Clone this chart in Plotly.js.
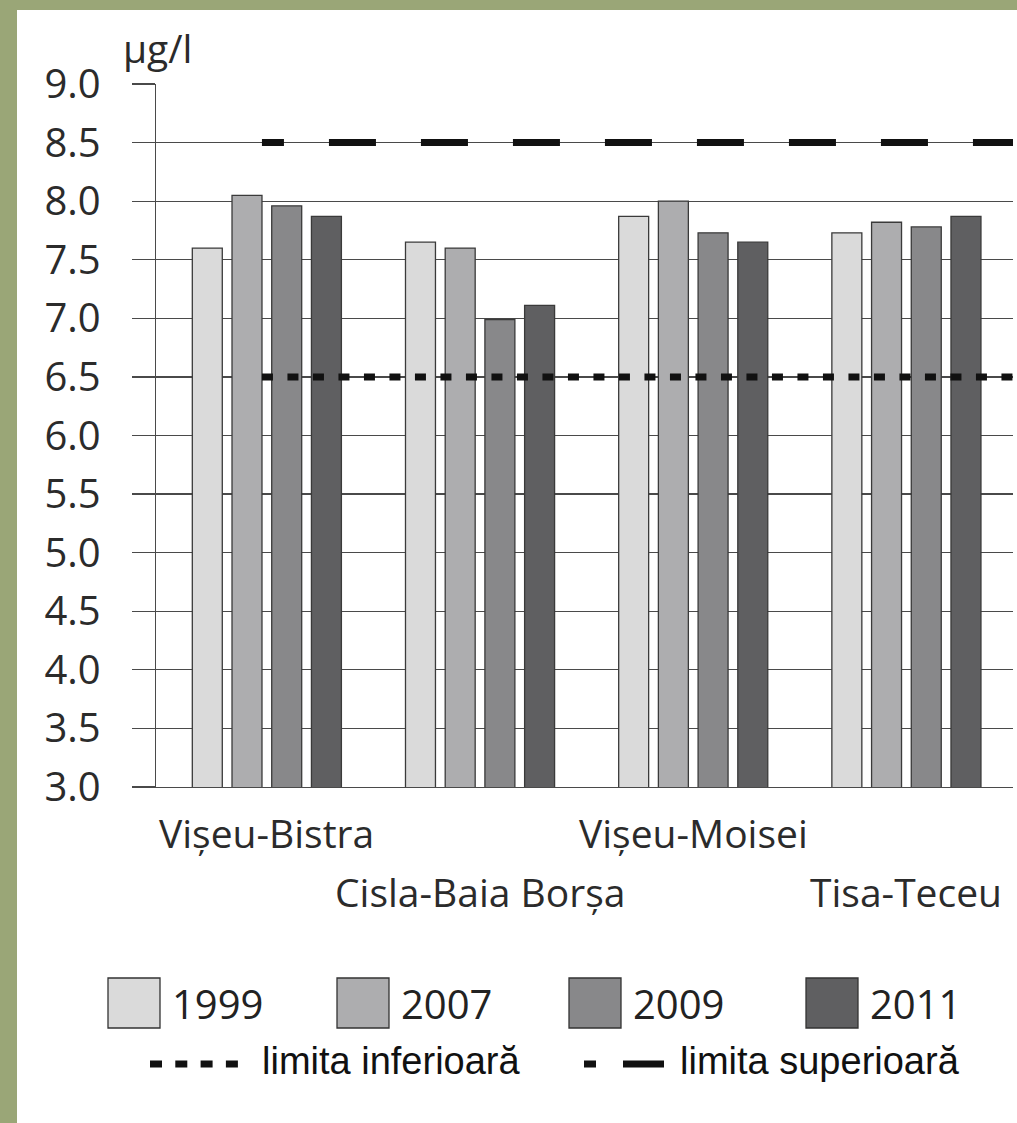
<!DOCTYPE html>
<html><head><meta charset="utf-8">
<script src="https://cdn.plot.ly/plotly-3.0.1.min.js"></script>
<style>
html,body{margin:0;padding:0;background:#9aa677;width:1017px;height:1123px;overflow:hidden;}
#chart{position:absolute;left:17px;top:10px;width:1000px;height:1113px;background:#fff;}
</style></head><body><div id="chart"></div>
<script>
// ---- data ----
const categories = ['Vișeu-Bistra', 'Cisla-Baia Borșa', 'Vișeu-Moisei', 'Tisa-Teceu'];
const years = ['1999', '2007', '2009', '2011'];
const v1999 = [7.60, 7.65, 7.87, 7.73];
const v2007 = [8.05, 7.60, 8.00, 7.82];
const v2009 = [7.96, 6.99, 7.73, 7.78];
const v2011 = [7.87, 7.11, 7.65, 7.87];
const lowerLimit = 6.5;
const upperLimit = 8.5;
const limitLabels = ['limita inferioară', 'limita superioară'];
const unitLabel = 'µg/l';

// ---- styles ----
const seriesValues = [v1999, v2007, v2009, v2011];
const colors = ['#dadada', '#adadaf', '#88888a', '#5f5f61'];
const gridCol = '#4a4a4a';
const W = 1000, H = 1113, ML = 139, MR = 4, MT = 74, MB = 336;
const plotW = W - ML - MR, plotH = H - MT - MB;
// page pixel -> paper coords (div is offset by 17,10)
const px = x => (x - 17 - ML) / plotW;
const py = y => (H - MB - (y - 10)) / plotH;
const xIdx = categories.map((c, i) => i);

const traces = seriesValues.map((vals, k) => ({
  type: 'bar', name: years[k], x: xIdx, y: vals,
  marker: {color: colors[k], line: {color: '#3a3a3a', width: 1.3}},
  showlegend: false, hoverinfo: 'skip'
}));
const lineStart = -0.023, lineEnd = 3.5;
traces.push({
  type: 'scatter', mode: 'lines', x: [lineStart, lineEnd], y: [upperLimit, upperLimit],
  line: {color: '#111', width: 7,
    dash: '22px,45px,47px,45px,47px,45px,47px,45px,47px,45px,47px,45px,47px,45px,47px,45px,47px,45px,47px,45px'},
  showlegend: false, hoverinfo: 'skip'
});
traces.push({
  type: 'scatter', mode: 'lines', x: [lineStart, lineEnd], y: [lowerLimit, lowerLimit],
  line: {color: '#111', width: 7, dash: '11px,14.5px'},
  showlegend: false, hoverinfo: 'skip'
});

const annotations = [];
const shapes = [];
categories.forEach((c, i) => {
  annotations.push({
    text: c, xref: 'x', x: i, yref: 'paper', y: i % 2 === 0 ? py(832) : py(891),
    xanchor: 'center', yanchor: 'middle', showarrow: false,
    font: {family: 'Open Sans', size: 39, color: '#2b2b2b'}
  });
});
annotations.push({
  text: unitLabel, xref: 'paper', yref: 'paper', x: px(121), y: py(47),
  xanchor: 'left', yanchor: 'middle', showarrow: false,
  font: {family: 'Open Sans', size: 39, color: '#2b2b2b'}
});
const sqStarts = [108, 337, 569, 806];
years.forEach((yr, i) => {
  shapes.push({type: 'rect', xref: 'paper', yref: 'paper',
    x0: px(sqStarts[i]), x1: px(sqStarts[i] + 52), y0: py(1028), y1: py(978),
    fillcolor: colors[i], line: {color: '#333', width: 1.3}});
  annotations.push({text: yr, xref: 'paper', yref: 'paper',
    x: px(sqStarts[i] + 62), y: py(1003), xanchor: 'left', yanchor: 'middle', showarrow: false,
    font: {family: 'Open Sans', size: 40, color: '#222'}});
});
const legRow2 = 1064;
shapes.push({type: 'line', xref: 'paper', yref: 'paper', x0: px(150), x1: px(238), y0: py(legRow2), y1: py(legRow2),
  line: {color: '#111', width: 7, dash: '12px,13.3px'}});
shapes.push({type: 'line', xref: 'paper', yref: 'paper', x0: px(584), x1: px(664), y0: py(legRow2), y1: py(legRow2),
  line: {color: '#111', width: 7, dash: '12px,27px,41px,12px'}});
annotations.push({text: limitLabels[0], xref: 'paper', yref: 'paper', x: px(260), y: py(legRow2 - 3),
  xanchor: 'left', yanchor: 'middle', showarrow: false,
  font: {family: 'Liberation Sans', size: 38, color: '#111'}});
annotations.push({text: limitLabels[1], xref: 'paper', yref: 'paper', x: px(678), y: py(legRow2 - 3),
  xanchor: 'left', yanchor: 'middle', showarrow: false,
  font: {family: 'Liberation Sans', size: 38, color: '#111'}});

const layout = {
  width: W, height: H,
  margin: {l: ML, r: MR, t: MT, b: MB},
  paper_bgcolor: '#ffffff', plot_bgcolor: '#ffffff',
  barmode: 'group', bargap: 0.255, bargroupgap: 0.245,
  showlegend: false,
  xaxis: {range: [-0.52, 3.5], showgrid: false, zeroline: false, showline: true,
    linecolor: gridCol, linewidth: 1.3, showticklabels: false, ticks: '', fixedrange: true},
  yaxis: {range: [3, 9], tick0: 3, dtick: 0.5, tickformat: '.1f', showgrid: true,
    gridcolor: gridCol, gridwidth: 1.3, zeroline: false, showline: true, linecolor: gridCol,
    linewidth: 1.3, ticks: 'outside', ticklen: 23, tickwidth: 1.3, tickcolor: gridCol,
    ticklabelstandoff: 23, tickfont: {family: 'Open Sans', size: 40, color: '#2b2b2b'}},
  annotations: annotations, shapes: shapes
};
Plotly.newPlot('chart', traces, layout, {displayModeBar: false, staticPlot: true});
</script></body></html>
